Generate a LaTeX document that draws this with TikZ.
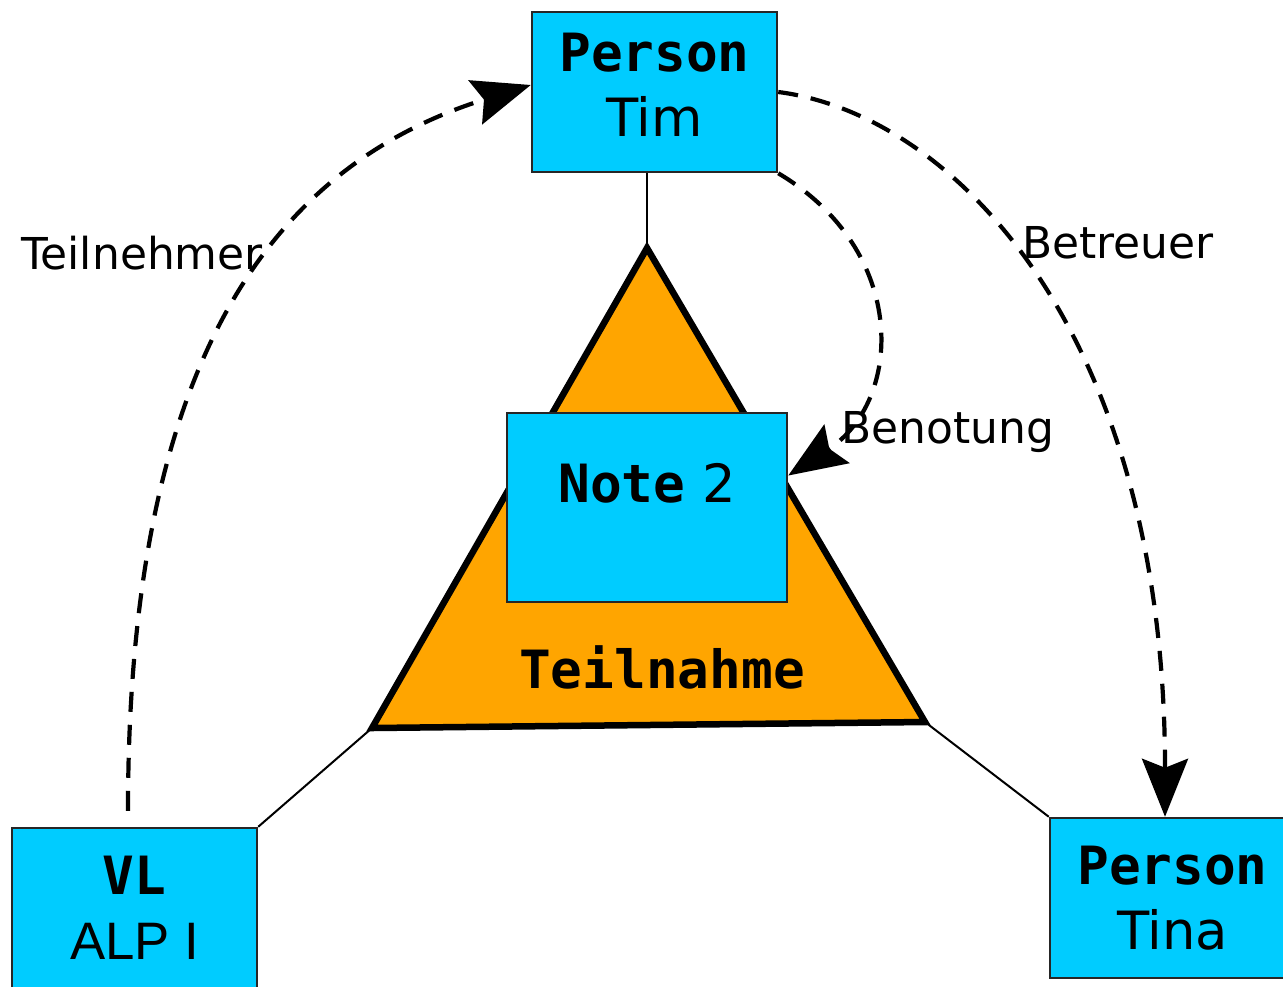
\documentclass[tikz,border=0pt]{standalone}
\usepackage{fontspec}
\setmainfont{DejaVu Sans}
\setmonofont{DejaVu Sans Mono}
\newfontfamily\arialfont{Liberation Sans}
\usetikzlibrary{arrows.meta, positioning, calc}
\definecolor{entblue}{RGB}{0,204,255}
\definecolor{relorange}{RGB}{255,165,0}

\begin{document}
\begin{tikzpicture}[
    ent/.style={rectangle, draw=black!85, line width=0.25mm, fill=entblue,
                minimum width=2.45cm, minimum height=1.6cm, align=center,
                font=\fontsize{15}{18.5}\selectfont},
    role/.style={line width=0.42mm, dash pattern=on 2mm off 1.3mm,
                 -{Stealth[length=5.8mm, width=4.6mm, inset=0.9mm]}},
    lbl/.style={font=\fontsize{12.5}{15}\selectfont}
]
    \useasboundingbox (0,0) rectangle (12.83,9.86);

    % Beziehung Teilnahme
    \coordinate (top) at (6.47,7.38);
    \coordinate (left) at (3.72,2.58);
    \coordinate (right) at (9.25,2.64);
    \draw[fill=relorange, line width=0.65mm, line join=miter] (top) -- (left) -- (right) -- cycle;
    \node[font=\fontsize{15}{18}\selectfont\ttfamily\bfseries] (teilnahme) at (6.62,3.19) {Teilnahme};

    % Entitaeten
    \node[ent, text depth=1.5mm] (tim) at (6.545,8.94) {\texttt{\textbf{Person}}\\Tim};
    \node[ent, minimum width=2.8cm, minimum height=1.89cm, text depth=5mm] (note) at (6.47,4.785) {\texttt{\textbf{Note}} 2};
    \node[ent] (vl) at (1.345,0.78) {\texttt{\textbf{VL}}\\{\arialfont ALP I}};
    \node[ent] (tina) at (11.725,0.88) {\texttt{\textbf{Person}}\\Tina};

    \draw[line width=0.2mm] (tim.south -| top) -- (top);
    \draw[line width=0.2mm] (vl.north east) -- (left);
    \draw[line width=0.2mm] (tina.north west) -- (right);

    % Rollen
    \draw[role] ([xshift=-0.65mm,yshift=1.6mm]vl.north) .. controls +(0,4.3) and +(-2.72,-0.85) .. ([yshift=0.7mm]tim.west);
    \draw[role] (tim.east) .. controls +(1.73,-0.22) and +(0,4.88) .. ([xshift=-0.75mm]tina.north);
    \draw[role] (tim.south east) .. controls +(1.31,-0.78) and +(1.15,0.75) .. ([yshift=3.2mm]note.east);

    \node[lbl] (teilnehmer) at (1.42,7.33) {Teilnehmer};
    \node[lbl] (betreuer) at (11.18,7.43) {Betreuer};
    \node[lbl] (benotung) at (9.48,5.54) {Benotung};
\end{tikzpicture}
\end{document}
